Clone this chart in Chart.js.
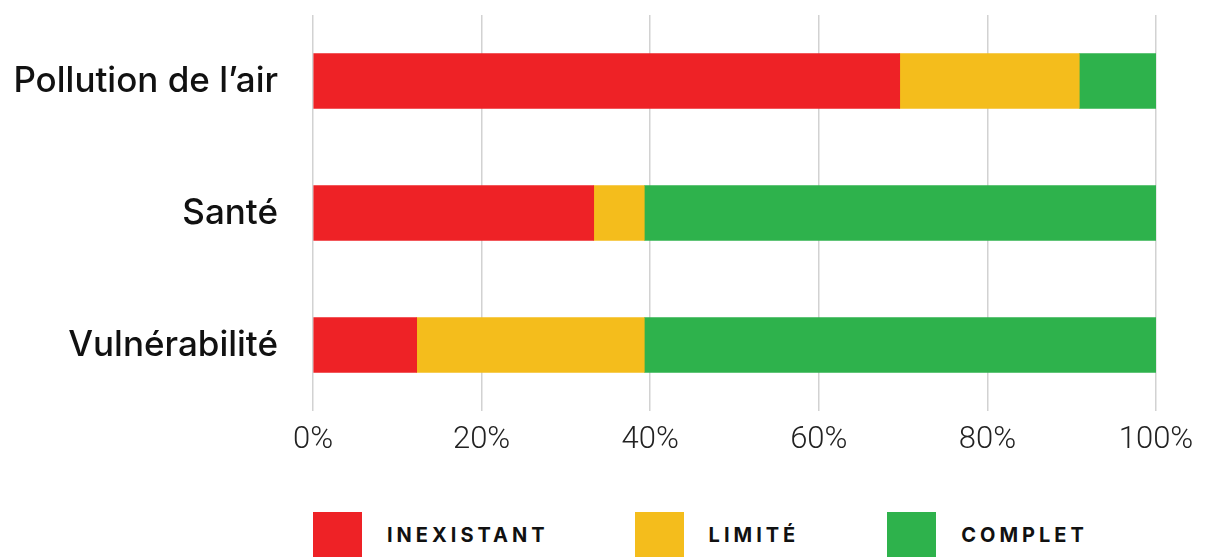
<!DOCTYPE html>
<html lang="fr">
<head>
    <meta charset="UTF-8">
    <style>
        body {
            margin: 0;
            background-color: #ffffff;
            width: 1211px;
            height: 557px;
            overflow: hidden;
        }
        .wrap {
            position: relative;
            width: 1211px;
            height: 480px;
        }
        .legend {
            display: flex;
            align-items: center;
            position: absolute;
            top: 512px;
            left: 313px;
            font-family: 'Inter', 'Noto Sans', sans-serif;
            font-weight: 700;
            font-size: 20px;
            letter-spacing: 4px;
            color: #111111;
        }
        .legend .item {
            display: flex;
            align-items: center;
        }
        .legend .box {
            width: 49px;
            height: 46px;
            margin-right: 25px;
        }
    </style>
    <script src="https://cdn.jsdelivr.net/npm/chart.js"></script>
    <title>Graphique</title>
</head>
<body>
    <div class="wrap">
        <canvas id="graphique" width="1211" height="480"></canvas>
    </div>
    <div class="legend" id="legende"></div>

    <script>
        const categories = ['Pollution de l\u2019air', 'Santé', 'Vulnérabilité'];
        const inexistant = [69.6, 33.3, 12.3];
        const limite = [21.3, 6.0, 27.0];
        const complet = [9.1, 60.7, 60.7];
        const etiquettes = ['INEXISTANT', 'LIMITÉ', 'COMPLET'];
        const couleurs = ['#EE2226', '#F4BD1C', '#2EB24C'];
        const ticksX = [0, 20, 40, 60, 80, 100];

        const series = [inexistant, limite, complet];

        // legende en html, plus simple pour l'espacement des lettres
        const legende = document.getElementById('legende');
        const marges = [86, 88, 0];
        etiquettes.forEach((txt, i) => {
            const item = document.createElement('div');
            item.className = 'item';
            item.style.marginRight = marges[i] + 'px';
            item.innerHTML = '<div class="box" style="background:' + couleurs[i] + '"></div><span>' + txt + '</span>';
            legende.appendChild(item);
        });

        const ctx = document.getElementById('graphique').getContext('2d');
        new Chart(ctx, {
            type: 'bar',
            data: {
                labels: categories,
                datasets: series.map((d, i) => ({
                    label: etiquettes[i],
                    data: d,
                    backgroundColor: couleurs[i],
                    borderWidth: 0,
                    barThickness: 55
                }))
            },
            options: {
                indexAxis: 'y',
                responsive: false,
                animation: false,
                layout: { padding: { top: 15, left: 0, right: 55, bottom: 0 } },
                plugins: {
                    legend: { display: false },
                    tooltip: { enabled: false }
                },
                scales: {
                    x: {
                        stacked: true,
                        min: 0,
                        max: 100,
                        afterBuildTicks: (scale) => {
                            scale.ticks = ticksX.map(v => ({ value: v }));
                        },
                        afterFit: (scale) => { scale.height = 69; },
                        grid: {
                            color: '#d2d2d2',
                            lineWidth: 1.5,
                            drawTicks: false
                        },
                        border: { display: false },
                        ticks: {
                            padding: 11,
                            color: '#222222',
                            font: { family: 'Roboto', size: 31, weight: 300 },
                            callback: (v) => v + '%'
                        }
                    },
                    y: {
                        stacked: true,
                        afterFit: (scale) => {
                            scale.width = 313;
                            // sinon le padding des ticks pousse la zone vers le bas
                            scale.paddingTop = 0;
                            scale.paddingBottom = 0;
                        },
                        grid: { display: false, drawTicks: false },
                        border: { display: false },
                        ticks: {
                            padding: 35,
                            color: '#111111',
                            font: { family: 'Inter', size: 35, weight: 500 }
                        }
                    }
                }
            }
        });
    </script>
</body>
</html>
